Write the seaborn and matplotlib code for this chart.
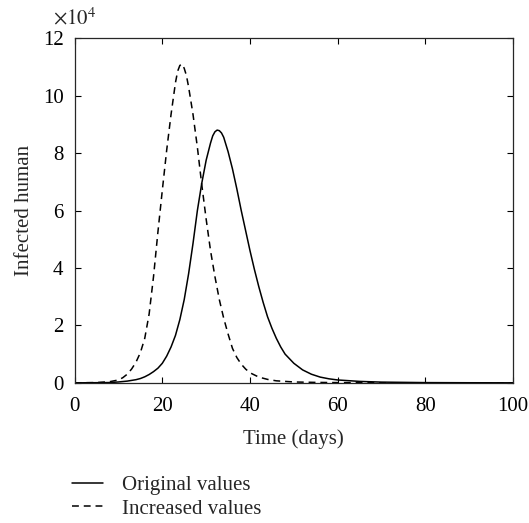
import matplotlib
matplotlib.use('Agg')
import matplotlib.pyplot as plt
import numpy as np
import pandas as pd
import seaborn as sns

# infected human (units of 1e4)
orig_days = [0, 5, 8, 10, 12, 14, 15, 16, 17, 18, 19, 20, 21, 22, 23, 24, 25, 26,
             27, 28, 29, 30, 31, 31.5, 32, 32.5, 33, 33.5, 34, 35, 36, 37, 38, 39,
             40, 41, 42, 43, 44, 45, 46, 47, 48, 50, 52, 54, 56, 58, 60, 65, 70,
             80, 90, 100]
orig_vals = [0, 0.005, 0.01, 0.03, 0.06, 0.11, 0.15, 0.21, 0.29, 0.39, 0.51, 0.68,
             0.93, 1.25, 1.65, 2.2, 2.9, 3.8, 4.85, 6.0, 6.95, 7.75, 8.35, 8.6,
             8.74, 8.8, 8.78, 8.7, 8.55, 8.05, 7.45, 6.75, 6.0, 5.3, 4.6, 3.95,
             3.35, 2.8, 2.3, 1.9, 1.55, 1.25, 1.0, 0.68, 0.45, 0.3, 0.2, 0.14, 0.1,
             0.05, 0.025, 0.008, 0.003, 0.001]

incr_days = [0, 5, 8, 10, 11, 12, 13, 14, 15, 16, 17, 18, 19, 20, 21, 22, 23,
             23.5, 24, 24.5, 25, 25.5, 26, 27, 28, 29, 30, 31, 32, 33, 34, 35, 36,
             37, 38, 39, 40, 42, 44, 46, 48, 50, 55, 60, 70, 80, 100]
incr_vals = [0, 0.01, 0.04, 0.1, 0.18, 0.3, 0.48, 0.72, 1.05, 1.55, 2.4, 3.7,
             5.25, 6.7, 8.1, 9.35, 10.45, 10.85, 11.05, 11.1, 10.95, 10.7, 10.3,
             9.35, 8.2, 6.9, 5.7, 4.6, 3.7, 2.9, 2.25, 1.7, 1.2, 0.88, 0.65, 0.48,
             0.35, 0.2, 0.12, 0.07, 0.05, 0.03, 0.015, 0.008, 0.003, 0.001, 0]

labels = ['Original values', 'Increased values']

sns.set_style('ticks')
plt.rcParams['font.family'] = ['Liberation Serif', 'DejaVu Serif']
plt.rcParams['font.size'] = 15
plt.rcParams['mathtext.fontset'] = 'stix'
plt.rcParams['xtick.direction'] = 'in'
plt.rcParams['ytick.direction'] = 'in'
plt.rcParams['xtick.top'] = True
plt.rcParams['ytick.right'] = True

df = pd.concat([
    pd.DataFrame({'day': orig_days, 'infected': orig_vals, 'series': labels[0]}),
    pd.DataFrame({'day': incr_days, 'infected': incr_vals, 'series': labels[1]}),
])

fig = plt.figure(figsize=(5.29, 5.23), dpi=100)
ax = fig.add_axes([0.141, 0.268, 0.829, 0.659])
sns.lineplot(data=df, x='day', y='infected', style='series',
             style_order=labels, dashes={labels[0]: '', labels[1]: (4.5, 3.2)},
             color='black', linewidth=1.1, ax=ax, legend=False)

ax.set_xlim(0, 100)
ax.set_ylim(0, 12)
ax.set_xticks([0, 20, 40, 60, 80, 100])
ax.set_yticks([0, 2, 4, 6, 8, 10, 12])
ax.text(0.0, 1.04, r'$\times10^4$', transform=ax.transAxes, fontsize=15,
        ha='center', va='baseline')
ax.set_xlabel('Time (days)', labelpad=10)
ax.set_ylabel('Infected human', labelpad=6)
ax.tick_params(length=4, width=0.8, colors='black', pad=8)
ax.tick_params(axis='x', pad=10)
for s in ax.spines.values():
    s.set_linewidth(0.9)

handles = ax.get_lines()[:2]
fig.legend(handles, labels, loc='upper left', bbox_to_anchor=(0.136, 0.091),
           frameon=False, handlelength=1.5, handletextpad=0.9, labelspacing=0.2,
           borderaxespad=0, borderpad=0)

fig.savefig('out.png', dpi=100)
